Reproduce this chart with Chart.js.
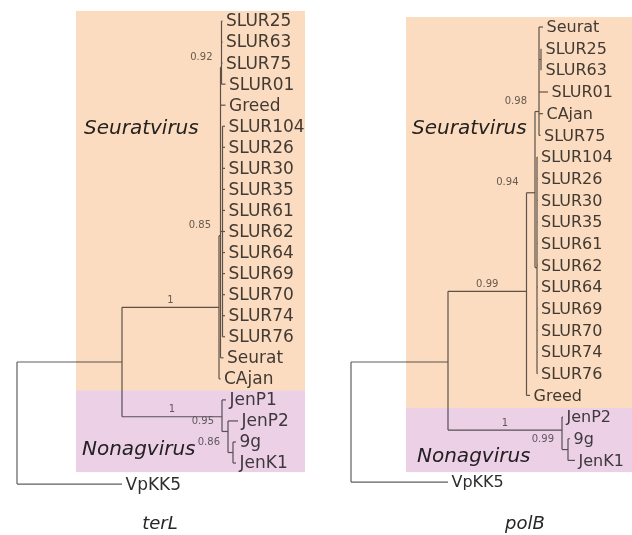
<!DOCTYPE html>
<html><head><meta charset="utf-8">
<script src="https://cdn.jsdelivr.net/npm/chart.js@4/dist/chart.umd.min.js"></script>
<style>
html,body{margin:0;padding:0;background:#fff;}
#wrap{position:relative;width:632px;height:535px;overflow:hidden;}
.pane{position:absolute;top:0;width:316px;height:535px;}
</style></head><body>
<div id="wrap">
<div class="pane" style="left:0"><canvas id="c1" width="316" height="535"></canvas></div>
<div class="pane" style="left:316px"><canvas id="c2" width="316" height="535"></canvas></div>
</div>
<script>
// ---------- terL tree (depth = branch distance from root, row = tip order) ----------
const terlNames = ['#root','#I','VpKK5','#S','#N','#A','CAjan','#N92','SLUR25','SLUR63','SLUR75','SLUR01','Greed','#C',
  'SLUR104','SLUR26','SLUR30','SLUR35','SLUR61','SLUR62','SLUR64','SLUR69','SLUR70','SLUR74','SLUR76','Seurat',
  'JenP1','#N95','JenP2','#N86','9g','JenK1'];
const terlParents = [null,'#root','#root','#I','#I','#S','#S','#A','#N92','#N92','#N92','#N92','#A','#A',
  '#C','#C','#C','#C','#C','#C','#C','#C','#C','#C','#C','#A',
  '#N','#N','#N95','#N95','#N86','#N86'];
const terlDepth = [0,1.05,1.05,2.02,2.05,2.035,2.035,2.045,2.055,2.055,2.055,2.085,2.085,2.055,
  2.08,2.08,2.08,2.08,2.08,2.08,2.08,2.08,2.08,2.08,2.08,2.065,
  2.09,2.11,2.21,2.16,2.19,2.19];
const terlRow = [19.1,16.2,22,13.6,18.8,10.2,17,2.2,0,1,2,3,4,10,
  5,6,7,8,9,10,11,12,13,14,15,16,
  18,19.5,19,20.5,20,21];
const terlSupport = {'#S':'1','#N':'1','#A':'0.85','#N92':'0.92','#N95':'0.95','#N86':'0.86'};

// ---------- polB tree ----------
const polbNames = ['#root','#I','VpKK5','#S','#N','#T','Greed','#U','#V','Seurat','#W','SLUR25','SLUR63','SLUR01','CAjan','SLUR75',
  'SLUR104','SLUR26','SLUR30','SLUR35','SLUR61','SLUR62','SLUR64','SLUR69','SLUR70','SLUR74','SLUR76',
  'JenP2','#M','9g','JenK1'];
const polbParents = [null,'#root','#root','#I','#I','#S','#S','#T','#T','#U','#U','#W','#W','#U','#U','#U',
  '#V','#V','#V','#V','#V','#V','#V','#V','#V','#V','#V',
  '#N','#N','#M','#M'];
const polbDepth = [0,0.97,0.97,1.755,2.11,1.84,1.79,1.88,1.86,1.92,1.90,1.91,1.91,1.97,1.92,1.895,
  1.865,1.865,1.865,1.865,1.865,1.865,1.865,1.865,1.865,1.865,1.865,
  2.12,2.17,2.19,2.24];
const polbRow = [18.2,15.46,21,12.2,18.6,7.65,17,3.9,11.1,0,1.5,1,2,3,4,5,
  6,7,8,9,10,11,12,13,14,15,16,
  18,19.5,19,20];
const polbSupport = {'#S':'0.99','#N':'1','#T':'0.94','#U':'0.98','#M':'0.99'};

const clades = ['Seuratvirus','Nonagvirus'];
const geneTitles = ['terL','polB'];

const LINE = '#5f5f5f';
const PEACH = 'rgb(251,220,192)';
const PINK = 'rgb(236,209,230)';

function buildSegments(names, parents, depth, row){
  const idx = {}; names.forEach((n,i)=>idx[n]=i);
  const segs = [];
  names.forEach((n,i)=>{
    const p = parents[i];
    if(p!==null){
      const pi = idx[p];
      segs.push([{x:depth[pi],y:row[i]},{x:depth[i],y:row[i]}]);
    }
    const kids = [];
    parents.forEach((pp,j)=>{ if(pp===n) kids.push(row[j]); });
    if(kids.length){
      segs.push([{x:depth[i],y:Math.min(...kids)},{x:depth[i],y:Math.max(...kids)}]);
    }
  });
  return segs.map(s=>({data:s,showLine:true,borderColor:LINE,borderWidth:1.2,pointRadius:0,fill:false}));
}

function makeTree(canvasId, cfg){
  const {names,parents,depth,row,support,xMin,xMax,yMin,yMax,tipFont,boxes,cladeLabels,title} = cfg;
  const idx = {}; names.forEach((n,i)=>idx[n]=i);
  const plugin = {
    id:'treeText',
    afterDraw(chart){
      const ctx = chart.ctx, xs = chart.scales.x, ys = chart.scales.y;
      ctx.save();
      // tip labels
      ctx.font = tipFont; ctx.textAlign='left'; ctx.textBaseline='middle';
      names.forEach((n,i)=>{
        if(n[0]==='#') return;
        ctx.fillStyle = n==='VpKK5' ? '#2e2e2e' : '#444';
        ctx.fillText(n, xs.getPixelForValue(depth[i])+3.5, ys.getPixelForValue(row[i])+1);
      });
      // support values
      ctx.font = '10px "DejaVu Sans"'; ctx.fillStyle='#6a6a6a';
      Object.keys(support).forEach(n=>{
        const i = idx[n], pi = idx[parents[i]];
        const px = xs.getPixelForValue(depth[pi]), nx = xs.getPixelForValue(depth[i]);
        const ny = ys.getPixelForValue(row[i]);
        if(nx-px>40){
          ctx.textAlign='center'; ctx.textBaseline='bottom';
          ctx.fillText(support[n],(px+nx)/2,ny-2);
        } else {
          ctx.textAlign='right'; ctx.textBaseline='middle';
          ctx.fillText(support[n],px-8,ny-10);
        }
      });
      // clade names
      ctx.font = 'italic 20px "DejaVu Sans"'; ctx.fillStyle='#262626';
      ctx.textAlign='left'; ctx.textBaseline='middle';
      cladeLabels.forEach((c,k)=>ctx.fillText(clades[k], c[0], ys.getPixelForValue(c[1])));
      // gene title
      ctx.font = 'italic 18px "DejaVu Sans"'; ctx.textAlign='center'; ctx.fillStyle='#262626';
      ctx.fillText(title[0], title[1], title[2]);
      // clade boxes (multiply so text and lines show through)
      ctx.globalCompositeOperation='multiply';
      boxes.forEach(b=>{
        const x0 = xs.getPixelForValue(b.x0), x1 = xs.getPixelForValue(b.x1);
        const y0 = ys.getPixelForValue(b.r0), y1 = ys.getPixelForValue(b.r1);
        ctx.fillStyle=b.color; ctx.fillRect(x0,y0,x1-x0,y1-y0);
      });
      ctx.restore();
    }
  };
  return new Chart(document.getElementById(canvasId),{
    type:'scatter',
    data:{datasets:buildSegments(names,parents,depth,row)},
    options:{
      responsive:false, animation:false, devicePixelRatio:1,
      layout:{padding:0},
      plugins:{legend:{display:false},tooltip:{enabled:false},title:{display:false}},
      scales:{
        x:{type:'linear',min:xMin,max:xMax,display:false},
        y:{type:'linear',min:yMin,max:yMax,reverse:true,display:false}
      }
    },
    plugins:[plugin]
  });
}

makeTree('c1',{
  names:terlNames,parents:terlParents,depth:terlDepth,row:terlRow,support:terlSupport,
  xMin:-0.17,xMax:2.99,yMin:-21/21.05,yMax:(535-21)/21.05,
  tipFont:'17px "DejaVu Sans"',
  boxes:[{x0:0.59,x1:2.88,r0:-0.48,r1:17.55,color:PEACH},{x0:0.59,x1:2.88,r0:17.55,r1:21.43,color:PINK}],
  cladeLabels:[[84,5.13],[82,20.38]],
  title:[geneTitles[0],160,524]
});
makeTree('c2',{
  names:polbNames,parents:polbParents,depth:polbDepth,row:polbRow,support:polbSupport,
  xMin:-0.35,xMax:2.81,yMin:-27/21.67,yMax:(535-27)/21.67,
  tipFont:'16px "DejaVu Sans"',
  boxes:[{x0:0.55,x1:2.81,r0:-0.46,r1:17.58,color:PEACH},{x0:0.55,x1:2.81,r0:17.58,r1:20.54,color:PINK}],
  cladeLabels:[[96,4.7],[101,19.84]],
  title:[geneTitles[1],209,524]
});
</script>
</body></html>
